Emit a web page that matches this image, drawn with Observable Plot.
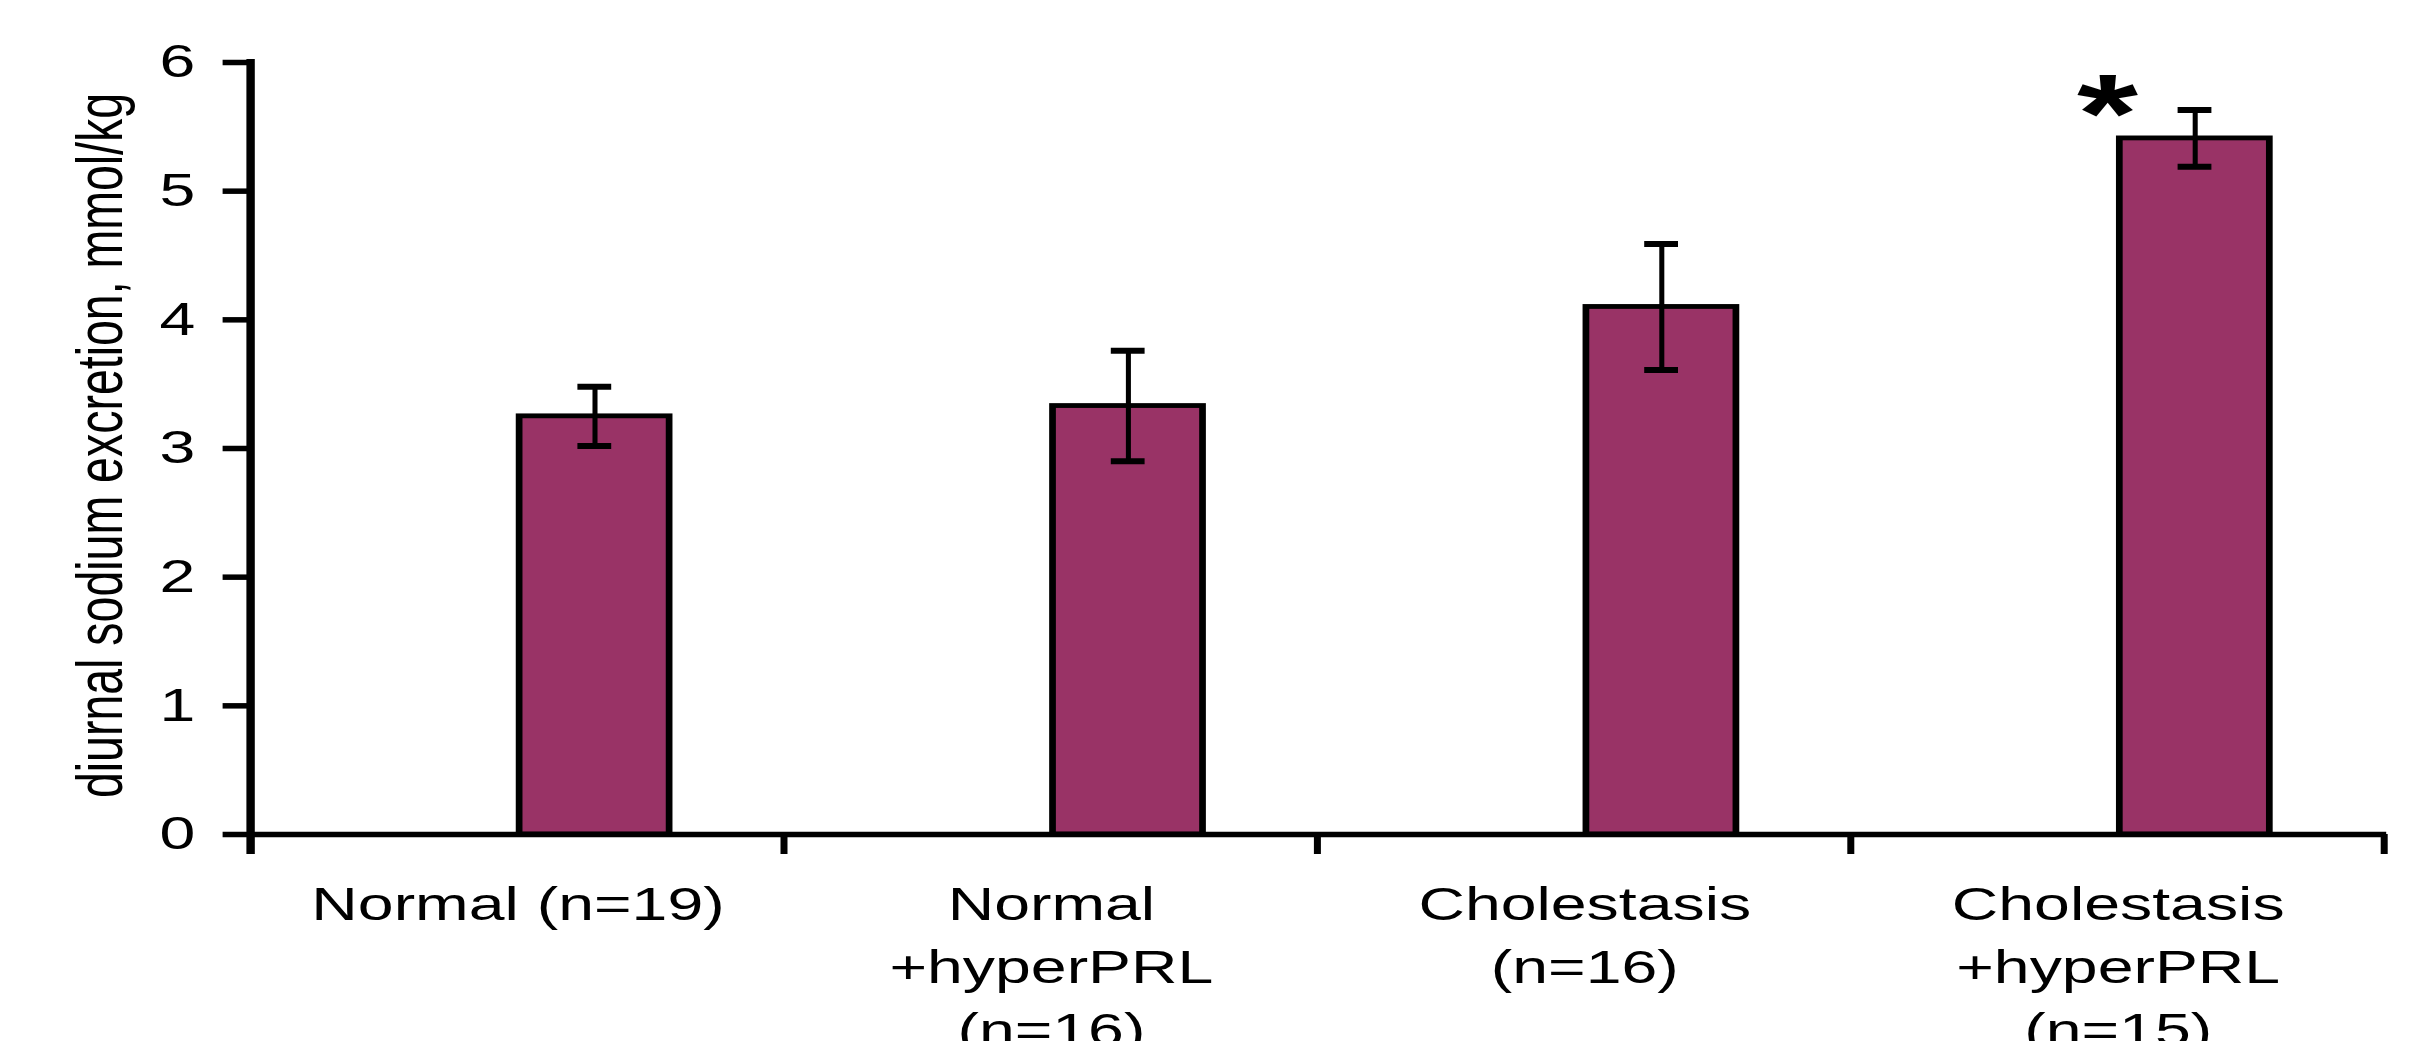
<!DOCTYPE html>
<html>
<head>
<meta charset="utf-8">
<script src="https://cdn.jsdelivr.net/npm/d3@7"></script>
<script src="https://cdn.jsdelivr.net/npm/@observablehq/plot@0.6"></script>
<style>
  html, body { margin: 0; padding: 0; background: #fff; overflow: hidden; }
</style>
</head>
<body>
<div id="chart"></div>
<script>
// ---- data ----
const groups = [
  "Normal (n=19)",
  "Normal\n+hyperPRL\n(n=16)",
  "Cholestasis\n(n=16)",
  "Cholestasis\n+hyperPRL\n(n=15)"
];
const means  = [3.25, 3.33, 4.10, 5.41];
const errors = [0.23, 0.43, 0.49, 0.22];
const yTicks = [0, 1, 2, 3, 4, 5, 6];
const yLabel = "diurnal sodium excretion, mmol/kg";
const starGroups = [groups[3]];
const starLabels = ["*"];

// ---- tables built from the arrays ----
const data = groups.map((g, i) => ({group: g, mean: means[i], lo: means[i] - errors[i], hi: means[i] + errors[i]}));
const stars = starGroups.map((g, i) => ({group: g, label: starLabels[i], y: data[groups.indexOf(g)].hi}));

// The reference figure is stretched horizontally; draw at a narrower width and stretch the SVG.
const S = 1.4;
const W = 2431 / S;
const H = 1041;
const mL = 177, mR = 32, mT = 62, mB = 207;
const step = (W - mL - mR) / groups.length;
const barOffset = 55;      // bar centre relative to band centre (unstretched px)
const capHalf = 12.5;
const capCenter = step / 2 + barOffset;

function frameLines(index, scales) {
  const {x, y} = scales;
  const g = d3.create("svg:g").attr("stroke", "black");
  const xs = groups.map(d => x(d)).concat([x(groups[groups.length - 1]) + x.bandwidth()]);
  const y0 = y(0);
  g.append("line").attr("x1", xs[0]).attr("x2", xs[0])
    .attr("y1", y(6) - 3).attr("y2", y0 + 20).attr("stroke-width", 6);
  for (const xv of xs) {
    g.append("line").attr("x1", xv).attr("x2", xv)
      .attr("y1", y0).attr("y2", y0 + 20).attr("stroke-width", 5);
  }
  return g.node();
}

const svg = Plot.plot({
  width: W,
  height: H,
  marginLeft: mL,
  marginRight: mR,
  marginTop: mT,
  marginBottom: mB,
  style: {fontFamily: "'Liberation Sans', Arial, sans-serif", fontSize: "46px", color: "black", background: "white"},
  x: {domain: groups, padding: 0},
  y: {domain: [0, 6]},
  marks: [
    Plot.barY(data, {
      x: "group", y: "mean", fill: "#993366", stroke: "black", strokeWidth: 4.8,
      insetLeft: 191.8, insetRight: step - 191.8 - 108
    }),
    Plot.ruleX(data, {x: "group", y1: "lo", y2: "hi", dx: barOffset, stroke: "black", strokeWidth: 3.6}),
    Plot.tickY(data, {x: "group", y: "hi", stroke: "black", strokeWidth: 6,
      insetLeft: capCenter - capHalf, insetRight: step - capCenter - capHalf}),
    Plot.tickY(data, {x: "group", y: "lo", stroke: "black", strokeWidth: 6,
      insetLeft: capCenter - capHalf, insetRight: step - capCenter - capHalf}),
    Plot.ruleY([0], {stroke: "black", strokeWidth: 5.5}),
    frameLines,
    Plot.axisY({ticks: yTicks, tickFormat: d3.format("d"), tickSize: 18, tickPadding: 20, strokeWidth: 5.5,
      fontSize: 46, label: null}),
    Plot.axisX({tickSize: 0, tickPadding: 41, fontSize: 46, lineHeight: 1.37, label: null}),
    Plot.text([yLabel], {text: d => d, frameAnchor: "left", rotate: -90, dx: -105, dy: -3,
      fontSize: 46.5, textAnchor: "middle", lineAnchor: "middle", fill: "black"}),
    Plot.text(stars, {x: "group", y: "y", text: "label", fontSize: 112, fontWeight: "bold",
      dx: -7.6, dy: 6, lineAnchor: "middle", fill: "black"})
  ]
});

svg.setAttribute("width", 2431);
svg.setAttribute("height", H);
svg.setAttribute("preserveAspectRatio", "none");
svg.style.width = "2431px";
svg.style.height = H + "px";
svg.style.maxWidth = "none";
document.getElementById("chart").appendChild(svg);
</script>
</body>
</html>
